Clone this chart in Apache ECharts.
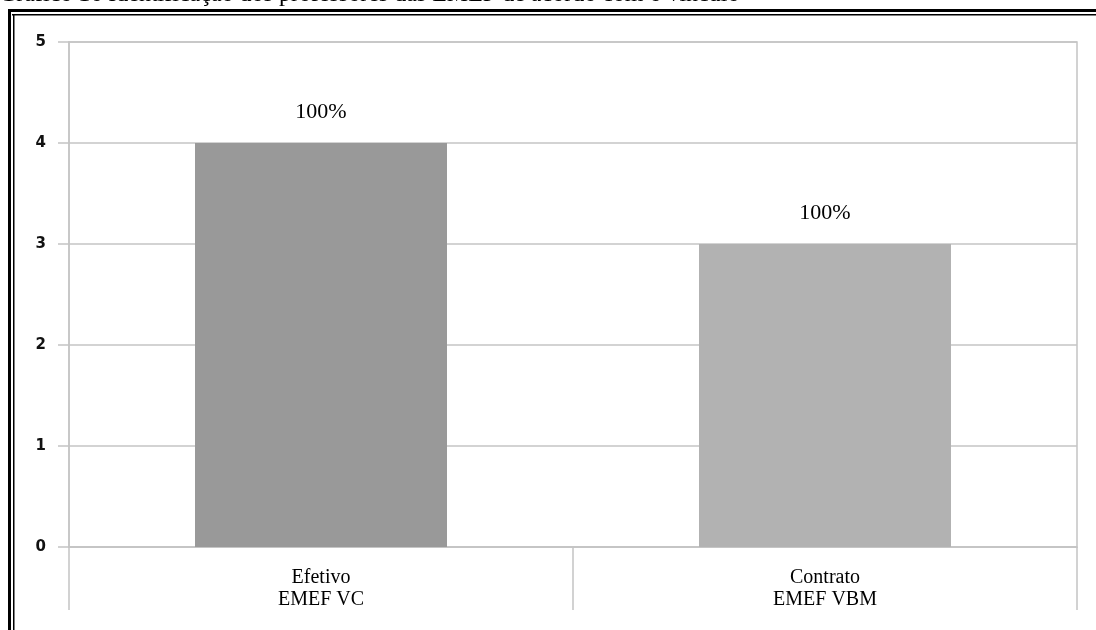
<!DOCTYPE html>
<html>
<head>
<meta charset="utf-8">
<script src="https://cdn.jsdelivr.net/npm/echarts@6/dist/echarts.min.js"></script>
<style>
  html, body { margin: 0; padding: 0; background: #fff; }
  #chart { width: 1096px; height: 630px; }
</style>
</head>
<body>
<div id="chart"></div>
<script>
// Professores por vínculo, por escola
const categories = ['Efetivo\nEMEF VC', 'Contrato\nEMEF VBM'];
const values = [4, 3];
const valueLabels = ['100%', '100%'];
const barColors = ['#999999', '#b2b2b2'];
const yTicks = [0, 1, 2, 3, 4, 5];
const titleText = 'Gráfico 16 Identificação dos professores das EMEF de acordo com o vínculo';

const gridColor = '#c4c4c4';
const serif = '"Liberation Serif", "Times New Roman", serif';

const chart = echarts.init(document.getElementById('chart'));
chart.setOption({
  animation: false,
  backgroundColor: '#fff',
  grid: {
    left: 69, right: 19, top: 42, bottom: 83,
    show: true, borderColor: gridColor, borderWidth: 1.5, backgroundColor: 'transparent'
  },
  xAxis: {
    type: 'category',
    data: categories,
    boundaryGap: true,
    axisLine: { show: true, lineStyle: { color: gridColor, width: 1.5 } },
    axisTick: { show: true, length: 63, lineStyle: { color: gridColor, width: 1.5 } },
    axisLabel: {
      color: '#000', fontFamily: serif, fontSize: 20, lineHeight: 22, margin: 20
    }
  },
  yAxis: {
    type: 'value',
    min: yTicks[0],
    max: yTicks[yTicks.length - 1],
    interval: 1,
    axisLine: { show: true, lineStyle: { color: gridColor, width: 1.5 } },
    axisTick: { show: true, length: 11, lineStyle: { color: gridColor, width: 1.5 } },
    splitLine: { show: true, lineStyle: { color: gridColor, width: 1.5 } },
    axisLabel: {
      color: '#111', fontFamily: '"DejaVu Sans", sans-serif', fontWeight: 'bold',
      fontSize: 15, margin: 23
    }
  },
  series: [{
    type: 'bar',
    barWidth: '50%',
    data: values.map((v, i) => ({ value: v, itemStyle: { color: barColors[i] } })),
    label: {
      show: true,
      position: 'top',
      distance: 20,
      color: '#000',
      fontFamily: serif,
      fontSize: 22,
      formatter: p => valueLabels[p.dataIndex]
    }
  }],
  graphic: [
    // caption above the frame (partly cut off by the page edge)
    {
      type: 'text', left: -1, top: -17, z: 10,
      style: { text: titleText, font: '24px ' + serif, fill: '#000' }
    },
    // double frame lines, top and left
    { type: 'rect', shape: { x: 8, y: 9, width: 1088, height: 3 }, style: { fill: '#000' }, z: 10 },
    { type: 'rect', shape: { x: 12, y: 14, width: 1084, height: 1.5 }, style: { fill: '#000' }, z: 10 },
    { type: 'rect', shape: { x: 8, y: 9, width: 3, height: 621 }, style: { fill: '#000' }, z: 10 },
    { type: 'rect', shape: { x: 13, y: 14, width: 1.5, height: 616 }, style: { fill: '#000' }, z: 10 }
  ]
});
</script>
</body>
</html>
